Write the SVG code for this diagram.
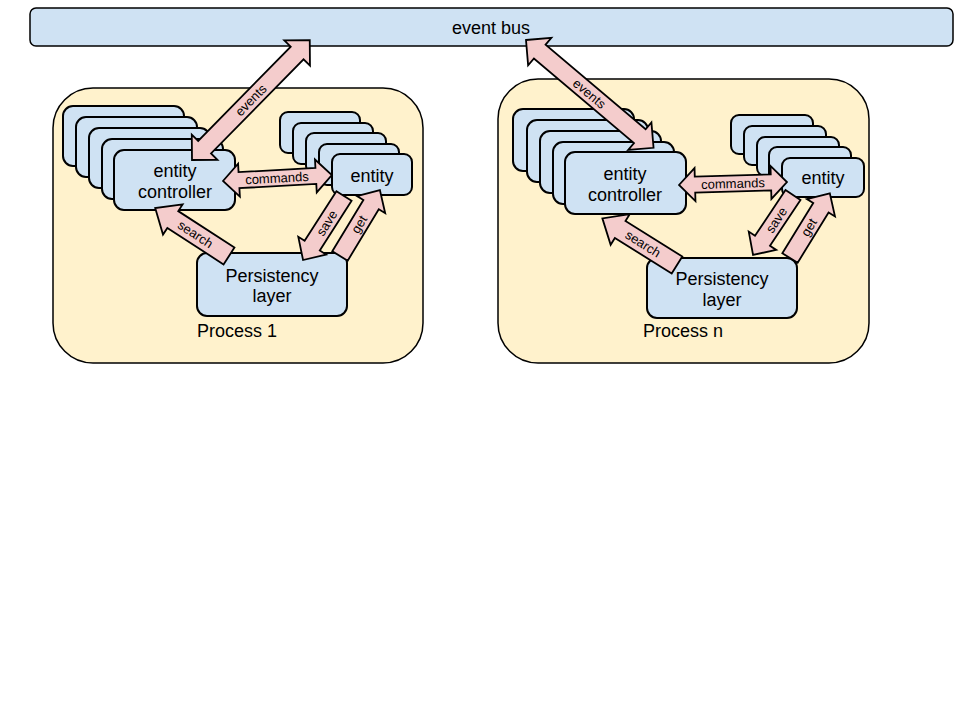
<svg xmlns="http://www.w3.org/2000/svg" width="960" height="720" viewBox="0 0 960 720">
<style>
.bg{fill:#ffffff}
.bus{fill:#cfe2f3;stroke:#000;stroke-width:1.5}
.proc{fill:#fff2cc;stroke:#000;stroke-width:1.5}
.box{fill:#cfe2f3;stroke:#000;stroke-width:2}
.arr{fill:#f4cccc;stroke:#000;stroke-width:1.8;stroke-linejoin:miter}
.t{font-family:"Liberation Sans",Arial,sans-serif;font-size:18px;fill:#000;text-anchor:middle}
.tl{font-family:"Liberation Sans",Arial,sans-serif;font-size:18px;fill:#000}
.lab{font-family:"Liberation Sans",Arial,sans-serif;font-size:13px;fill:#000;text-anchor:middle;dominant-baseline:central}
</style>
<rect class="bg" x="0" y="0" width="960" height="720"/>

<g id="event-bus">
<rect class="bus" x="30" y="8" width="923" height="38" rx="6"/>
<text class="t" x="491" y="34">event bus</text>
</g>

<g id="process-1">
<rect class="proc" x="53" y="88" width="370" height="275" rx="40"/>
<text class="tl" x="197" y="337">Process 1</text>
</g>

<g id="process-n">
<rect class="proc" x="498" y="79" width="371" height="284" rx="40"/>
<text class="tl" x="643" y="337">Process n</text>
</g>

<g id="entity-controller-1">
<rect class="box" x="63" y="106" width="121" height="60" rx="10"/>
<rect class="box" x="76" y="117" width="121" height="60" rx="10"/>
<rect class="box" x="89" y="128" width="121" height="60" rx="10"/>
<rect class="box" x="102" y="139" width="121" height="60" rx="10"/>
<rect class="box" x="114" y="150" width="121" height="60" rx="10"/>
<text class="t" x="175" y="177">entity</text>
<text class="t" x="175" y="198">controller</text>
</g>

<g id="entity-1">
<rect class="box" x="280" y="112" width="80" height="41" rx="8"/>
<rect class="box" x="293" y="123" width="80" height="41" rx="8"/>
<rect class="box" x="306" y="133" width="80" height="41" rx="8"/>
<rect class="box" x="319" y="144" width="80" height="41" rx="8"/>
<rect class="box" x="332" y="154" width="80" height="41" rx="8"/>
<text class="t" x="372" y="182">entity</text>
</g>

<g id="persistency-1">
<rect class="box" x="197" y="253" width="150" height="63" rx="10"/>
<text class="t" x="272" y="282">Persistency</text>
<text class="t" x="272" y="302">layer</text>
</g>

<g id="entity-controller-n">
<rect class="box" x="513" y="109" width="121" height="62" rx="10"/>
<rect class="box" x="527" y="120" width="121" height="62" rx="10"/>
<rect class="box" x="540" y="131" width="121" height="62" rx="10"/>
<rect class="box" x="553" y="142" width="121" height="62" rx="10"/>
<rect class="box" x="565" y="152" width="121" height="62" rx="10"/>
<text class="t" x="625" y="180">entity</text>
<text class="t" x="625" y="201">controller</text>
</g>

<g id="entity-n">
<rect class="box" x="731" y="115" width="82" height="39" rx="8"/>
<rect class="box" x="744" y="126" width="82" height="39" rx="8"/>
<rect class="box" x="757" y="137" width="82" height="39" rx="8"/>
<rect class="box" x="769" y="147" width="82" height="39" rx="8"/>
<rect class="box" x="782" y="158" width="82" height="39" rx="8"/>
<text class="t" x="823" y="184">entity</text>
</g>

<g id="persistency-n">
<rect class="box" x="647" y="258" width="150" height="60" rx="10"/>
<text class="t" x="722" y="285">Persistency</text>
<text class="t" x="722" y="306">layer</text>
</g>

<g id="connectors">
<!-- events 1 -->
<g transform="translate(192,160) rotate(-45.5)">
<path class="arr" d="M0,0 L18,-18 L18,-9 L150,-9 L150,-18 L168,0 L150,18 L150,9 L18,9 L18,18 Z"/>
<text class="lab" x="84" y="0">events</text>
</g>
<!-- events n -->
<g transform="translate(526,40) rotate(40.2)">
<path class="arr" d="M0,0 L18,-18 L18,-9 L149,-9 L149,-18 L167,0 L149,18 L149,9 L18,9 L18,18 Z"/>
<text class="lab" x="83" y="0">events</text>
</g>
<!-- commands 1 -->
<g transform="translate(223,181) rotate(-3.1)">
<path class="arr" d="M0,0 L16,-16.5 L16,-8 L93,-8 L93,-16.5 L109,0 L93,16.5 L93,8 L16,8 L16,16.5 Z"/>
<text class="lab" x="54" y="0">commands</text>
</g>
<!-- commands n -->
<g transform="translate(679,185) rotate(-1.6)">
<path class="arr" d="M0,0 L16,-16.5 L16,-8 L92,-8 L92,-16.5 L108,0 L92,16.5 L92,8 L16,8 L16,16.5 Z"/>
<text class="lab" x="54" y="0">commands</text>
</g>
<!-- search 1 -->
<g transform="translate(229,256) rotate(-147)">
<path class="arr" d="M0,-10 L67,-10 L67,-18 L88,0 L67,18 L67,10 L0,10 Z"/>
<text class="lab" x="40" y="0" transform="rotate(180 40 0)">search</text>
</g>
<!-- search n -->
<g transform="translate(677,265) rotate(-148)">
<path class="arr" d="M0,-10 L67,-10 L67,-18 L88,0 L67,18 L67,10 L0,10 Z"/>
<text class="lab" x="40" y="0" transform="rotate(180 40 0)">search</text>
</g>
<!-- save 1 -->
<g transform="translate(344,196) rotate(122.6)">
<path class="arr" d="M0,-9 L59,-9 L59,-16.5 L76,0 L59,16.5 L59,9 L0,9 Z"/>
<text class="lab" x="32" y="0" transform="rotate(180 32 0)">save</text>
</g>
<!-- get 1 -->
<g transform="translate(340,256) rotate(-58.8)">
<path class="arr" d="M0,-9 L60,-9 L60,-16.5 L77,0 L60,16.5 L60,9 L0,9 Z"/>
<text class="lab" x="37" y="0">get</text>
</g>
<!-- save n -->
<g transform="translate(793,195) rotate(123.7)">
<path class="arr" d="M0,-9 L55,-9 L55,-16.5 L72,0 L55,16.5 L55,9 L0,9 Z"/>
<text class="lab" x="30" y="0" transform="rotate(180 30 0)">save</text>
</g>
<!-- get n -->
<g transform="translate(790,258) rotate(-58.4)">
<path class="arr" d="M0,-9 L59,-9 L59,-16.5 L76,0 L59,16.5 L59,9 L0,9 Z"/>
<text class="lab" x="36" y="0">get</text>
</g>
</g>
</svg>
